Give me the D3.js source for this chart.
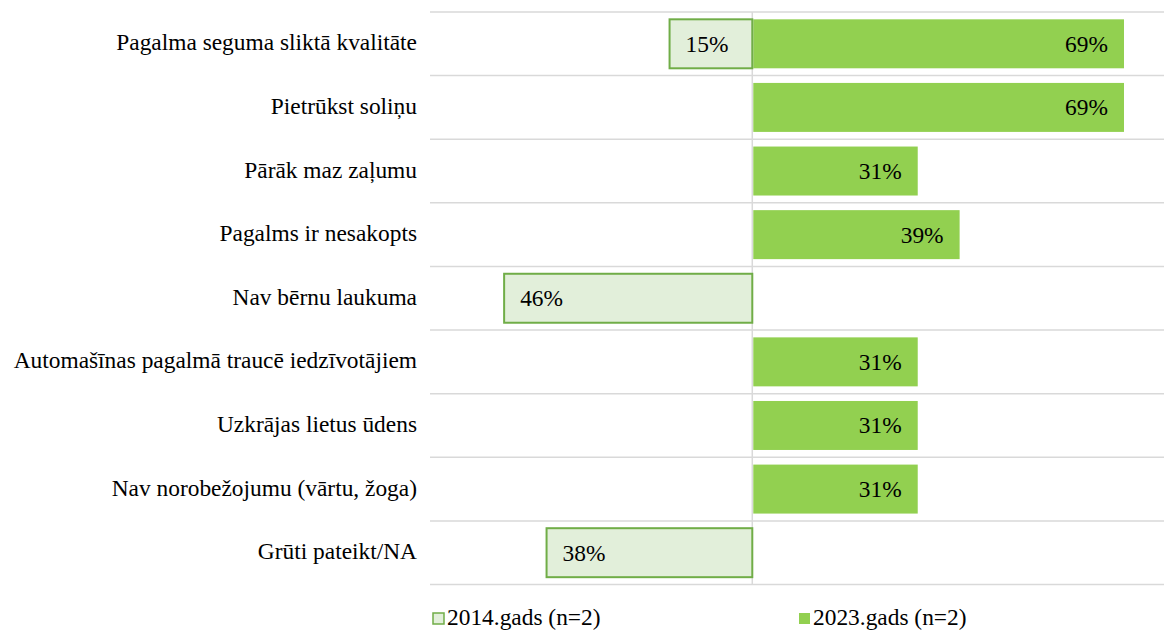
<!DOCTYPE html>
<html>
<head>
<meta charset="utf-8">
<script src="https://cdn.jsdelivr.net/npm/d3@7"></script>
<style>
  body { margin: 0; background: #fff; }
</style>
</head>
<body>
<svg></svg>
<script>
const width = 1164
const height = 630
const font = "'Liberation Serif'"
const fontSize = '23.4px'

// data
const categories = [
  'Pagalma seguma sliktā kvalitāte',
  'Pietrūkst soliņu',
  'Pārāk maz zaļumu',
  'Pagalms ir nesakopts',
  'Nav bērnu laukuma',
  'Automašīnas pagalmā traucē iedzīvotājiem',
  'Uzkrājas lietus ūdens',
  'Nav norobežojumu (vārtu, žoga)',
  'Grūti pateikt/NA'
]
const values2014 = [15.4, 0, 0, 0, 46.2, 0, 0, 0, 38.3]
const values2023 = [69.2, 69.2, 30.8, 38.6, 0, 30.8, 30.8, 30.8, 0]
const seriesNames = ['2014.gads (n=2)', '2023.gads (n=2)']

const svg = d3.select('svg').attr('width', width).attr('height', height)

const x = d3.scaleLinear().domain([-60, 80]).range([430, 1182])
const y = d3.scaleBand().domain(categories).range([12, 584.5]).paddingInner(0.23).paddingOuter(0.115)
const band = d3.scaleBand().domain(categories).range([12, 584.5])

// gridlines between rows
const grid = svg.append('g')
grid.selectAll('line')
  .data(categories.concat(['_end']))
  .enter().append('line')
  .attr('x1', 430).attr('x2', width)
  .attr('y1', (d, i) => 12 + i * band.step())
  .attr('y2', (d, i) => 12 + i * band.step())
  .style('stroke', '#d9d9d9').style('stroke-width', '1.5px')

svg.append('line')
  .attr('x1', x(0)).attr('x2', x(0))
  .attr('y1', 12).attr('y2', 584.5)
  .style('stroke', '#d9d9d9').style('stroke-width', '1.5px')

const fmt = v => Math.round(v) + '%'
const rows23 = categories.map((c, i) => ({c, v: values2023[i]})).filter(d => d.v > 0)
const rows14 = categories.map((c, i) => ({c, v: values2014[i]})).filter(d => d.v > 0)

// 2023 bars
const g23 = svg.append('g')
g23.selectAll('rect')
  .data(rows23)
  .enter().append('rect')
  .attr('x', x(0) + 1)
  .attr('y', d => y(d.c))
  .attr('width', d => x(d.v) - x(0) - 1)
  .attr('height', y.bandwidth())
  .style('fill', '#92d050')

g23.selectAll('text')
  .data(rows23)
  .enter().append('text')
  .attr('x', d => x(d.v) - 16)
  .attr('y', d => y(d.c) + y.bandwidth() / 2)
  .attr('dy', '0.34em')
  .attr('text-anchor', 'end')
  .style('font-family', font).style('font-size', fontSize)
  .text(d => fmt(d.v))

// 2014 bars
const g14 = svg.append('g')
g14.selectAll('rect')
  .data(rows14)
  .enter().append('rect')
  .attr('x', d => x(-d.v))
  .attr('y', d => y(d.c))
  .attr('width', d => x(0) - x(-d.v))
  .attr('height', y.bandwidth())
  .style('fill', '#e2efda')
  .style('stroke', '#70ad47')
  .style('stroke-width', '2px')

g14.selectAll('text')
  .data(rows14)
  .enter().append('text')
  .attr('x', d => x(-d.v) + 16)
  .attr('y', d => y(d.c) + y.bandwidth() / 2)
  .attr('dy', '0.34em')
  .style('font-family', font).style('font-size', fontSize)
  .text(d => fmt(d.v))

// category labels
svg.append('g').selectAll('text')
  .data(categories)
  .enter().append('text')
  .attr('x', 417)
  .attr('y', d => band(d) + band.bandwidth() / 2)
  .attr('dy', '0.28em')
  .attr('text-anchor', 'end')
  .style('font-family', font).style('font-size', fontSize)
  .text(d => d)

// legend
const legend = svg.append('g')
const legendX = [432, 798]
seriesNames.forEach((name, i) => {
  legend.append('rect')
    .attr('x', legendX[i] + 1).attr('y', 613)
    .attr('width', 11).attr('height', 11)
    .style('fill', i === 0 ? '#e2efda' : '#92d050')
    .style('stroke', i === 0 ? '#70ad47' : 'none')
    .style('stroke-width', '1.5px')
  legend.append('text')
    .attr('x', legendX[i] + 15).attr('y', 625)
    .style('font-family', font).style('font-size', fontSize)
    .text(name)
})
</script>
</body>
</html>
